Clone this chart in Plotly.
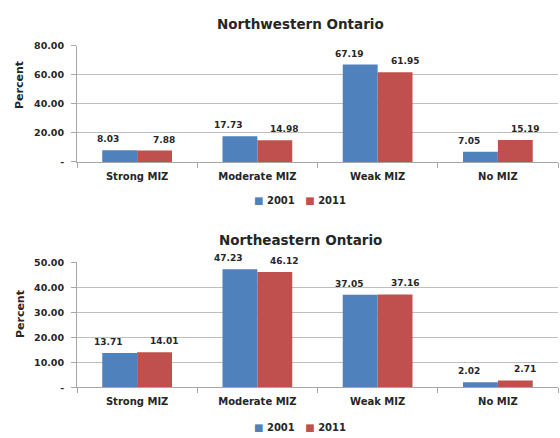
import plotly.graph_objects as go

categories = ["Strong MIZ", "Moderate MIZ", "Weak MIZ", "No MIZ"]
years = ["2001", "2011"]
nw_2001 = [8.03, 17.73, 67.19, 7.05]
nw_2011 = [7.88, 14.98, 61.95, 15.19]
ne_2001 = [13.71, 47.23, 37.05, 2.02]
ne_2011 = [14.01, 46.12, 37.16, 2.71]
nw_ticks = [0, 20, 40, 60, 80]
nw_ticktext = ["-", "20.00", "40.00", "60.00", "80.00"]
ne_ticks = [0, 10, 20, 30, 40, 50]
ne_ticktext = ["-", "10.00", "20.00", "30.00", "40.00", "50.00"]
titles = ["Northwestern Ontario", "Northeastern Ontario"]
y_title = "Percent"

BLUE = "#4F81BD"
RED = "#C0504D"
FONT = "DejaVu Sans"
TXT = "#262626"
W, H = 560, 438

fig = go.Figure()

panels = [
    (nw_2001, nw_2011, "x", "y"),
    (ne_2001, ne_2011, "x2", "y2"),
]
annotations = []
for (v1, v2, xa, ya) in panels:
    for vals, yr, col, shift in [(v1, years[0], BLUE, -29), (v2, years[1], RED, 27)]:
        fig.add_trace(go.Bar(x=categories, y=vals, name=yr, marker_color=col,
                             marker_line_width=0, xaxis=xa, yaxis=ya, showlegend=False))
        for c, v in zip(categories, vals):
            annotations.append(dict(x=c, y=v, xref=xa, yref=ya, text=f"{v:.2f}",
                                    showarrow=False, yanchor="bottom", xshift=shift,
                                    yshift=4, font=dict(family=FONT, size=9, color=TXT,
                                                        weight="bold")))

# chart titles
for t, ty in zip(titles, [18, 240]):
    annotations.append(dict(x=300 / W, y=1 - ty / H, xref="paper", yref="paper",
                            text=f"<b>{t}</b>", showarrow=False, yanchor="middle",
                            font=dict(family=FONT, size=13.5, color=TXT)))

# y-axis titles
for ty in [81, 316]:
    annotations.append(dict(x=20 / W, y=1 - ty / H, xref="paper", yref="paper",
                            text=f"<b>{y_title}</b>", showarrow=False, textangle=-90,
                            xanchor="center", yanchor="middle",
                            font=dict(family=FONT, size=11, color=TXT)))

# legends (one per chart)
legend_text = (f"<span style='color:{BLUE}'>■</span> {years[0]}"
               f"&nbsp;&nbsp;&nbsp;<span style='color:{RED}'>■</span> {years[1]}")
for ty in [200, 432]:
    annotations.append(dict(x=300 / W, y=1 - ty / H, xref="paper", yref="paper",
                            text=f"<b>{legend_text}</b>", showarrow=False,
                            xanchor="center", yanchor="middle",
                            font=dict(family=FONT, size=10, color=TXT)))

axis_common = dict(showline=True, linecolor="#a6a6a6", linewidth=1,
                   tickfont=dict(family=FONT, size=10, color=TXT, weight="bold"))
xa = dict(axis_common, type="category", ticks="outside", tickson="boundaries",
          ticklen=5, tickcolor="#a6a6a6", showgrid=False, ticklabelstandoff=5,
          domain=[77 / W, 558 / W])
ya = dict(axis_common, ticks="outside", ticklen=5, tickcolor="#a6a6a6",
          showgrid=True, gridcolor="#bfbfbf", gridwidth=1, zeroline=False,
          ticklabelstandoff=5,
          tickfont=dict(family=FONT, size=9.5, color=TXT, weight="bold"))

fig.update_layout(
    width=W, height=H,
    margin=dict(l=0, r=0, t=0, b=0),
    paper_bgcolor="white", plot_bgcolor="white",
    barmode="group", bargap=0.42, bargroupgap=0,
    xaxis=dict(xa, anchor="y"),
    xaxis2=dict(xa, anchor="y2"),
    yaxis=dict(ya, range=[0, 80], tickvals=nw_ticks, ticktext=nw_ticktext,
               domain=[1 - 160 / H, 1 - 41 / H], anchor="x"),
    yaxis2=dict(ya, range=[0, 50], tickvals=ne_ticks, ticktext=ne_ticktext,
                domain=[1 - 391 / H, 1 - 263 / H], anchor="x2"),
    annotations=annotations,
    showlegend=False,
)

fig.write_html("out.html", config={"displayModeBar": False},
               post_script="document.body.style.margin='0';")
